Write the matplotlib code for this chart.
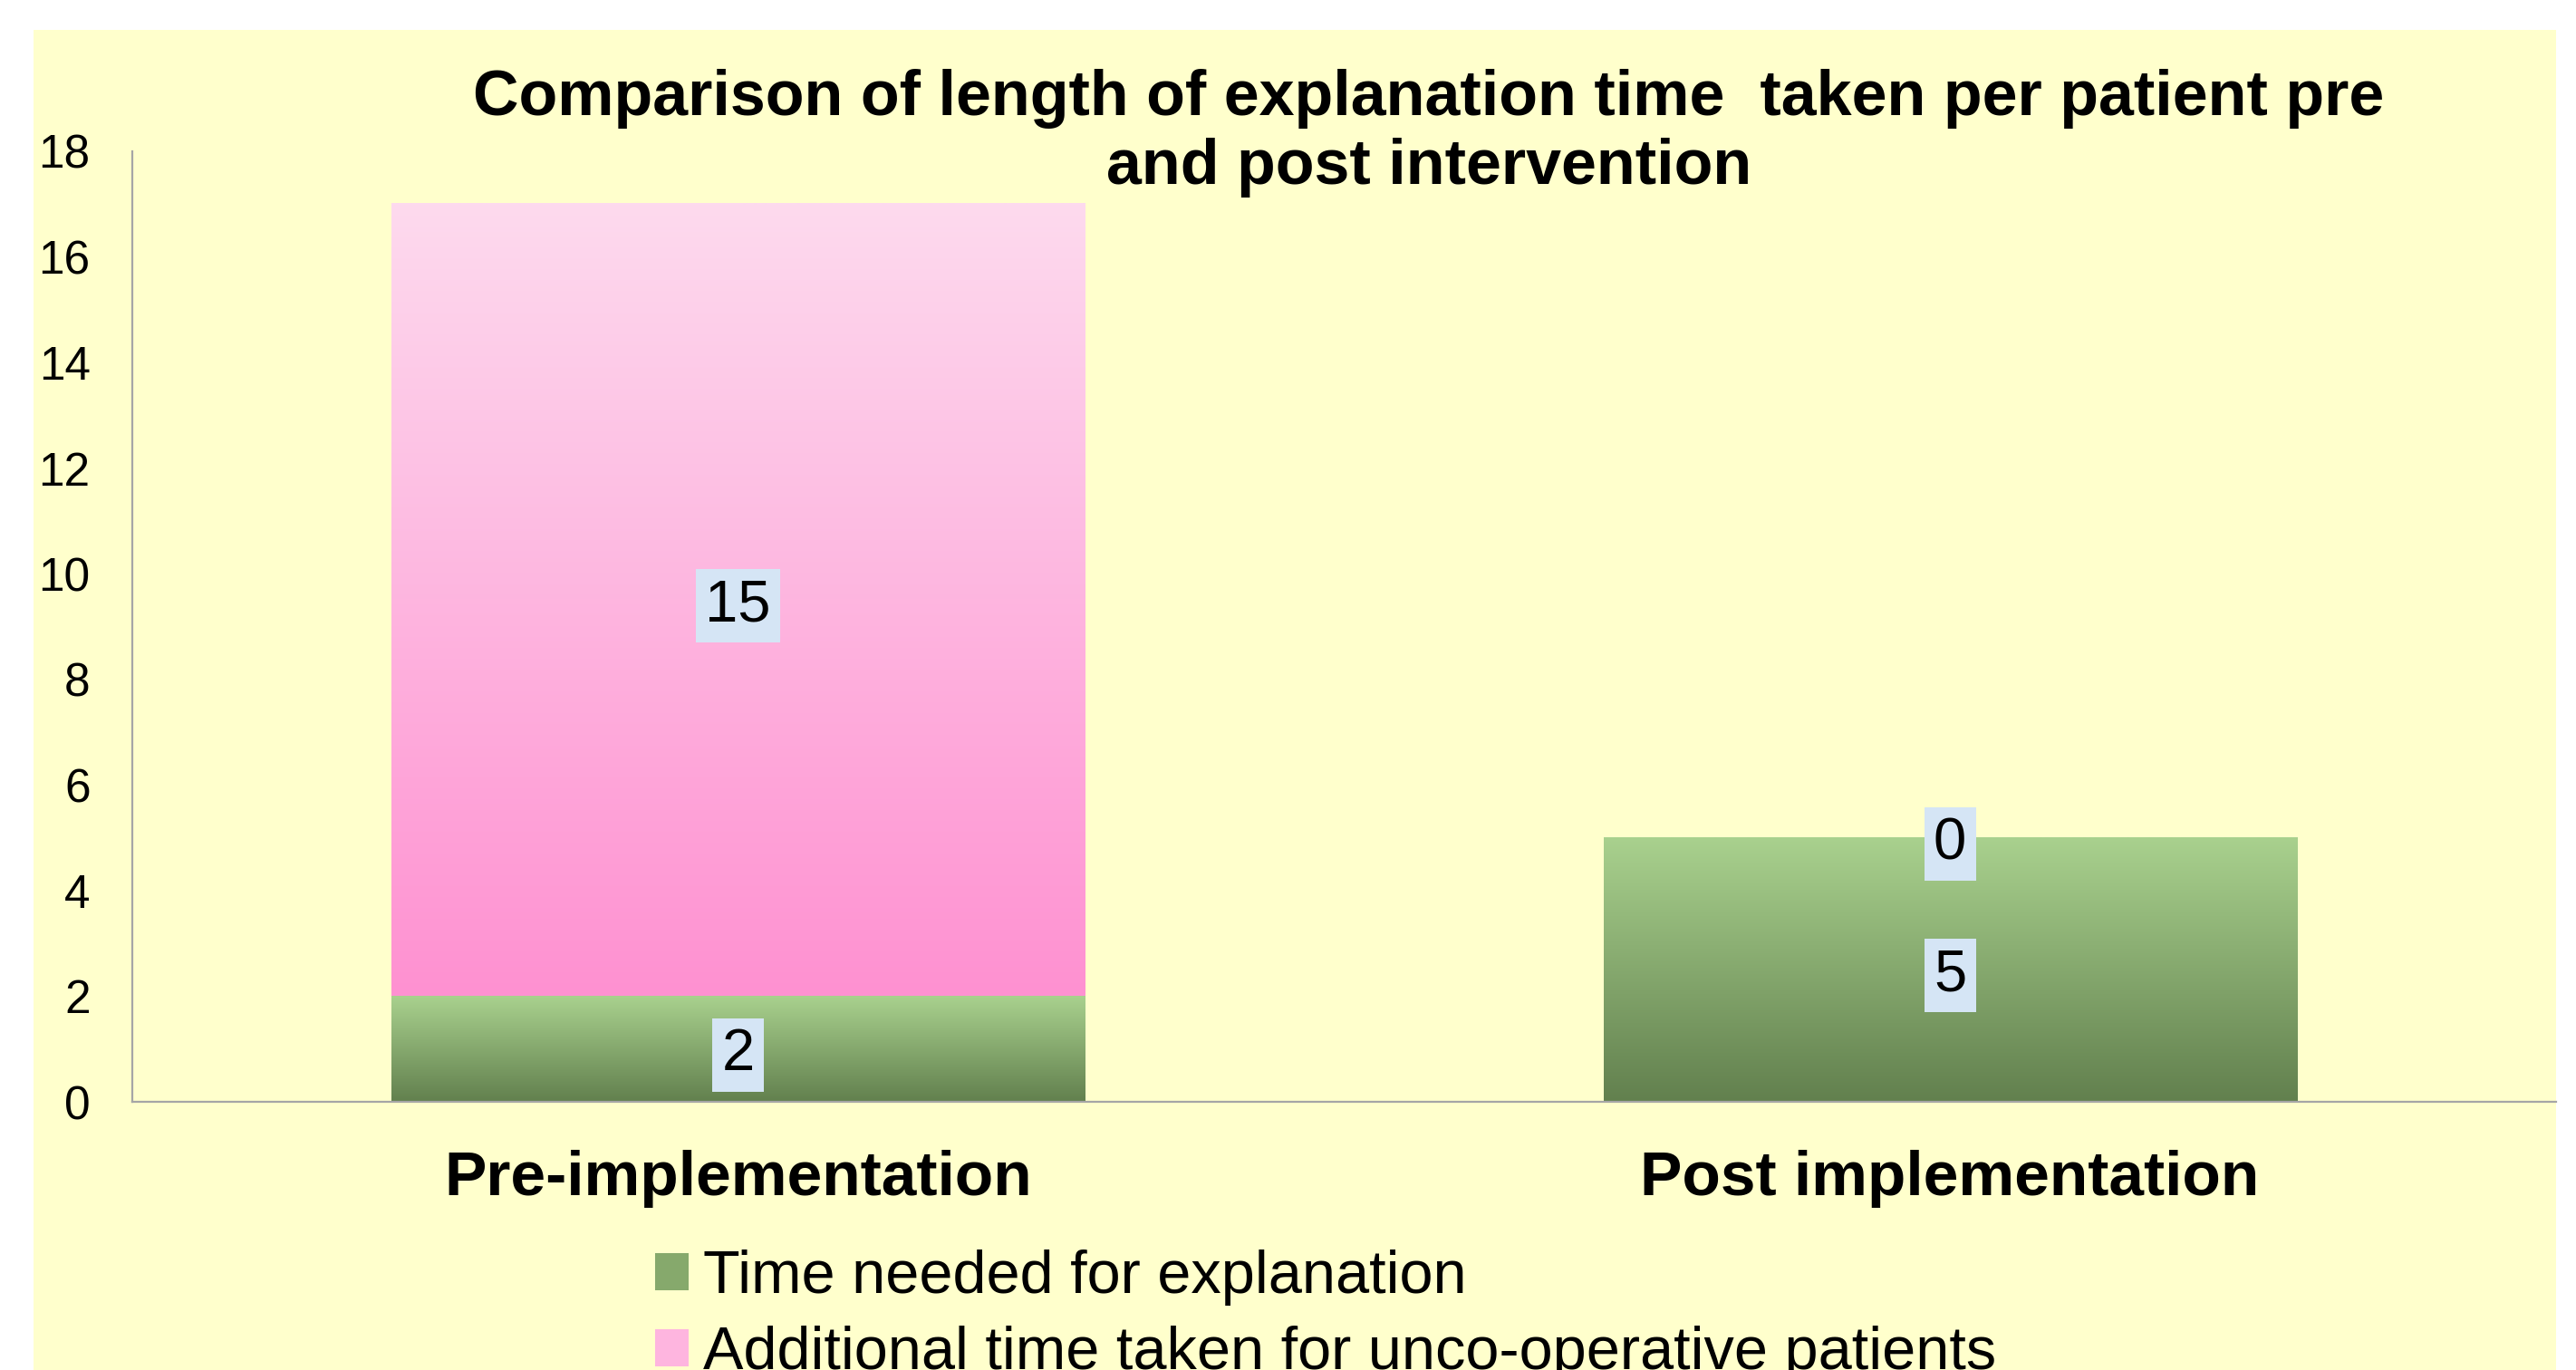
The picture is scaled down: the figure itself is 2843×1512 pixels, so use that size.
import numpy as np
import matplotlib.pyplot as plt
from matplotlib.patches import Patch, Rectangle
from matplotlib.colors import to_rgb

# data
categories = ['Pre-implementation', 'Post implementation']
explain_time = [2, 5]
extra_time = [15, 0]
series_names = ['Time needed for explanation',
                'Additional time taken for unco-operative patients']
title = 'Comparison of length of explanation time  taken per patient pre\nand post intervention'

green_top, green_bottom = '#a9d18e', '#62804e'
pink_top, pink_bottom = '#fddaee', '#ff91d1'
bg = '#ffffcc'

plt.rcParams['font.family'] = ['Liberation Sans', 'DejaVu Sans']

W, H = 2843, 1512
fig = plt.figure(figsize=(W / 200, H / 200), dpi=200)
fig.patches.append(Rectangle((37 / W, 0), (2821 - 37) / W, 1 - 33 / H,
                             transform=fig.transFigure, facecolor=bg,
                             edgecolor='none', zorder=-5))

ax = fig.add_axes([145.5 / W, 1 - 1216 / H, (2821 - 145.5) / W, (1216 - 167) / H])
ax.set_facecolor(bg)

x = np.arange(len(categories))
bw = 0.572
b1 = ax.bar(x, explain_time, width=bw, color='none', edgecolor='none')
b2 = ax.bar(x, extra_time, width=bw, bottom=explain_time, color='none', edgecolor='none')


def fill_gradient(bars, top, bottom):
    # vertical gradient painted into each bar's rectangle
    grad = np.linspace(to_rgb(top), to_rgb(bottom), 256)[:, None, :]
    for p in bars:
        if p.get_height() <= 0:
            continue
        ax.imshow(grad, extent=[p.get_x(), p.get_x() + p.get_width(),
                                p.get_y(), p.get_y() + p.get_height()],
                  aspect='auto', interpolation='bilinear', zorder=2)


fill_gradient(b1, green_top, green_bottom)
fill_gradient(b2, pink_top, pink_bottom)

for bars, vals in [(b1, explain_time), (b2, extra_time)]:
    for p, v in zip(bars, vals):
        ax.text(p.get_x() + p.get_width() / 2, p.get_y() + p.get_height() / 2, str(v),
                ha='center', va='center_baseline', fontsize=23.5, zorder=4,
                bbox=dict(boxstyle='square,pad=0.16', facecolor='#d5e5f5', edgecolor='none'))

ax.set_xlim(-0.5, 1.5)
ax.set_ylim(0, 18)
ax.set_yticks(range(0, 19, 2))
ax.set_xticks(x, categories, fontsize=25, fontweight='bold')
ax.tick_params(axis='x', length=0, pad=19)
ax.tick_params(axis='y', length=0, pad=16.5, labelsize=18.5)
for s in ['top', 'right']:
    ax.spines[s].set_visible(False)
for s in ['left', 'bottom']:
    ax.spines[s].set_color('#a6a6a6')
    ax.spines[s].set_linewidth(0.8)

fig.text(1577 / W, 1 - 147 / H, title, ha='center', va='center',
         fontsize=25.2, fontweight='bold', linespacing=1.2)

handles = [Patch(facecolor='#86a96c'), Patch(facecolor='#feb5df')]
fig.legend(handles, series_names, loc='upper left',
           bbox_to_anchor=(723 / W, 1 - 1379 / H), frameon=False,
           fontsize=24, handlelength=0.55, handleheight=0.55,
           handletextpad=0.25, labelspacing=0.33, borderpad=0, borderaxespad=0)

fig.savefig('out.png', dpi=200, facecolor='white')
